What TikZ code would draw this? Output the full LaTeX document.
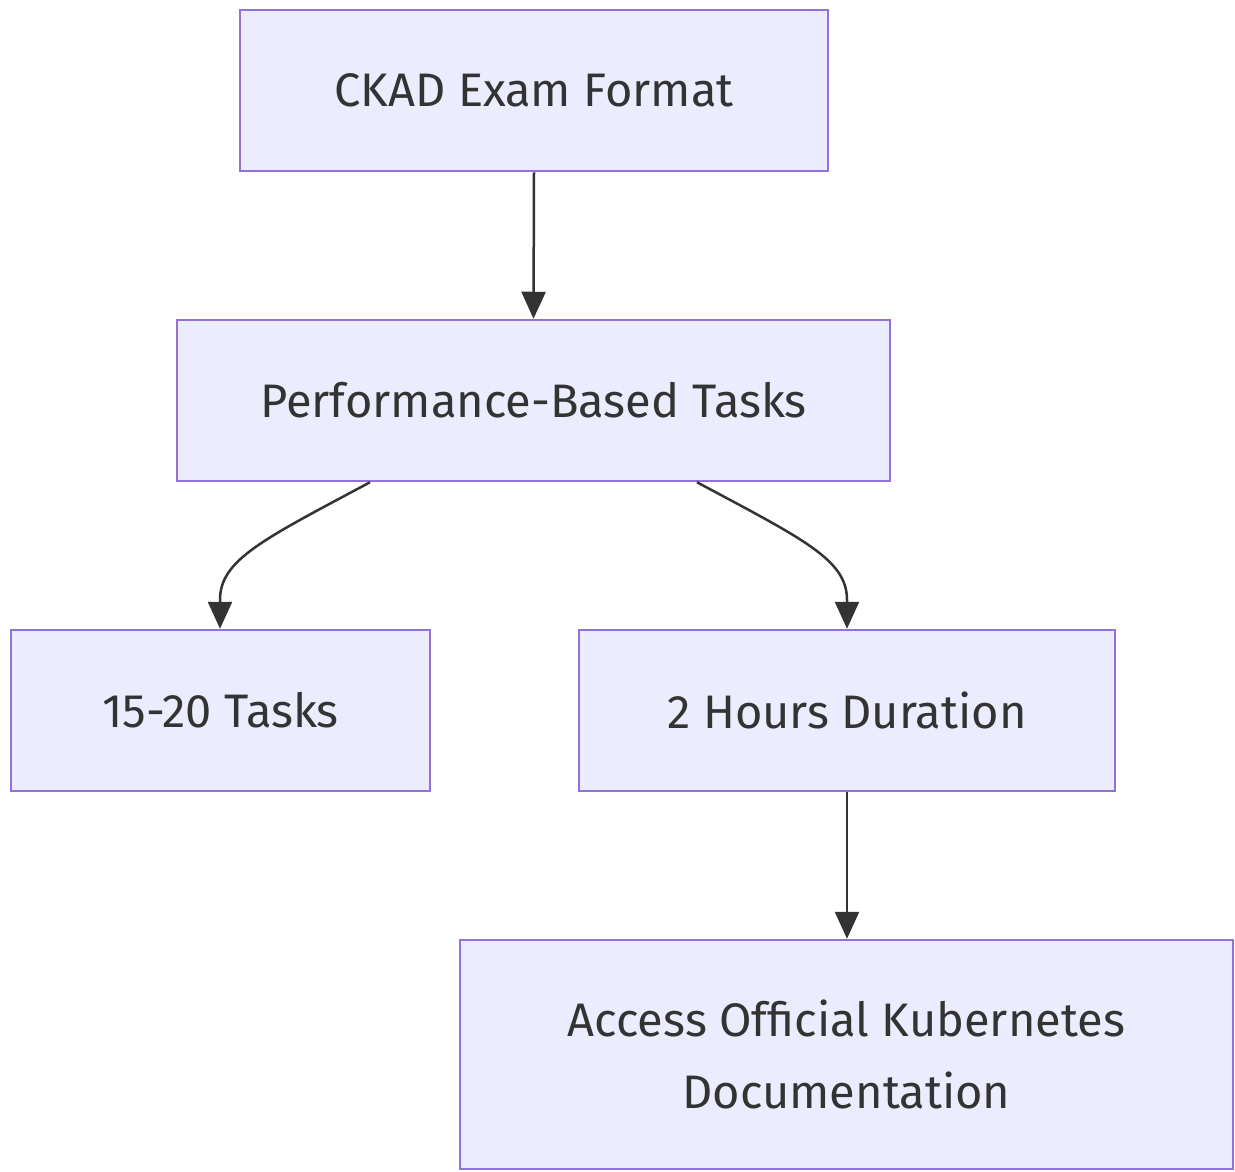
\documentclass[tikz,border=0pt]{standalone}
\usepackage{fontspec}
\setmainfont{Fira Sans}
\usetikzlibrary{arrows.meta}
\definecolor{boxfill}{HTML}{ECECFF}
\definecolor{boxdraw}{HTML}{9370DB}
\definecolor{txt}{HTML}{333333}
\begin{document}
\begin{tikzpicture}[x=1pt,y=-1pt,
  box/.style={draw=boxdraw,fill=boxfill,line width=2.5pt,inner sep=0pt,
    text=txt,font=\fontsize{47}{72}\selectfont,align=center,minimum height=161pt},
  conn/.style={draw=txt,line width=2.5pt,-{Triangle[length=27pt,width=24pt]}}]
\useasboundingbox (0,0) rectangle (1235,1171);
\node[box,minimum width=588pt] (ckad) at (534,90.5) {CKAD Exam Format};
\node[box,minimum width=713pt] (perf) at (533.5,400.5) {Performance-Based Tasks};
\node[box,minimum width=419pt] (tasks) at (220.5,710.5) {15-20 Tasks};
\node[box,minimum width=536pt] (hours) at (847,710.5) {2 Hours Duration};
\node[box,minimum width=773pt,minimum height=229pt] (docs) at (846.5,1054.5) {Access Official Kubernetes\\Documentation};
\coordinate (pl) at ([xshift=-163.5pt]perf.south);
\coordinate (pr) at ([xshift=163.5pt]perf.south);
\draw[conn] (ckad.south) -- (perf.north);
\draw[conn] (pl) .. controls (262,540) and (220,560) .. (220,600) -- (tasks.north -| 220,0);
\draw[conn] (pr) .. controls (805,540) and (847,560) .. (847,600) -- (hours.north);
\draw[conn] (hours.south) -- (hours.south |- docs.north);
\end{tikzpicture}
\end{document}
